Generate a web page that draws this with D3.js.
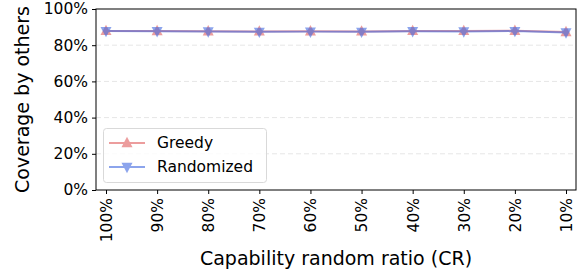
<!DOCTYPE html>
<html><head><meta charset="utf-8">
<script src="https://cdn.jsdelivr.net/npm/d3@7"></script>
<style>body{margin:0;background:#fff}svg{display:block}text{font-family:"DejaVu Sans",sans-serif;fill:#000}</style>
</head><body><svg id="c" width="578" height="272"></svg>
<script>
const categories = ["100%","90%","80%","70%","60%","50%","40%","30%","20%","10%"];
const greedy = [87.9, 87.8, 87.7, 87.6, 87.7, 87.6, 87.9, 87.9, 88.0, 87.3];
const randomized = [87.8, 87.7, 87.6, 87.4, 87.5, 87.4, 87.7, 87.6, 87.8, 87.0];
const yTicks = [0, 20, 40, 60, 80, 100];

const svg = d3.select("#c");
const L = 96, R = 576, T = 9, B = 190;
const x = d3.scalePoint().domain(categories).range([106, 566]);
const y = d3.scaleLinear().domain([0, 100]).range([B, T]);

// grid
svg.append("g").selectAll("line").data(yTicks.filter(d => d > 0 && d < 100)).join("line")
  .attr("x1", L).attr("x2", R).attr("y1", d => y(d)).attr("y2", d => y(d))
  .attr("stroke", "#e6e6e6").attr("stroke-width", 1).attr("stroke-dasharray", "5,3");

// axes
const yAxis = d3.axisLeft(y).tickValues(yTicks).tickFormat(d => d + "%").tickSize(4).tickPadding(4);
const gy = svg.append("g").attr("transform", `translate(${L},0)`).call(yAxis);
gy.select(".domain").remove();
gy.selectAll("text").style("font-size", "15.5px").attr("font-family", "DejaVu Sans").attr("fill", "#000");
gy.selectAll("line").attr("stroke", "#000");

const xAxis = d3.axisBottom(x).tickSize(4).tickPadding(4);
const gx = svg.append("g").attr("transform", `translate(0,${B})`).call(xAxis);
gx.select(".domain").remove();
gx.selectAll("line").attr("stroke", "#000");
gx.selectAll("text").style("font-size", "15.5px").attr("fill", "#000")
  .attr("transform", "rotate(-90)").attr("text-anchor", "end")
  .attr("x", -8).attr("y", 0).attr("dy", "0.35em");

// spines
svg.append("rect").attr("x", L).attr("y", T).attr("width", R - L).attr("height", B - T)
  .attr("fill", "none").attr("stroke", "#000").attr("stroke-width", 1);

const series = [
  {name: "Greedy", values: greedy, color: "#d62728", op: 0.45, sym: "up"},
  {name: "Randomized", values: randomized, color: "#4169e1", op: 0.6, sym: "down"}
];
const tri = (cx, cy, s, dir) => {
  const h = s * 0.95, w = s;
  return dir === "up"
    ? `M${cx},${cy - h * 0.6}L${cx + w / 2},${cy + h * 0.4}L${cx - w / 2},${cy + h * 0.4}Z`
    : `M${cx},${cy + h * 0.6}L${cx + w / 2},${cy - h * 0.4}L${cx - w / 2},${cy - h * 0.4}Z`;
};
const line = d3.line().x((d, i) => x(categories[i])).y(d => y(d));
series.forEach(s => {
  const g = svg.append("g").attr("opacity", s.op);
  g.append("path").datum(s.values).attr("d", line).attr("fill", "none")
    .attr("stroke", s.color).attr("stroke-width", 2);
  g.selectAll("path.m").data(s.values).join("path").attr("class", "m")
    .attr("d", (d, i) => tri(x(categories[i]), y(d), 11, s.sym)).attr("fill", s.color);
});

// legend
const lg = svg.append("g");
lg.append("rect").attr("x", 103.5).attr("y", 128.5).attr("width", 163).attr("height", 54).attr("rx", 3)
  .attr("fill", "#fff").attr("fill-opacity", 0.8).attr("stroke", "#d9d9d9");
series.forEach((s, i) => {
  const cy = 143 + i * 24;
  const g = lg.append("g").attr("opacity", s.op);
  g.append("line").attr("x1", 109).attr("x2", 145).attr("y1", cy).attr("y2", cy)
    .attr("stroke", s.color).attr("stroke-width", 2);
  g.append("path").attr("d", tri(127, cy, 11, s.sym)).attr("fill", s.color);
  lg.append("text").attr("x", 157).attr("y", cy).attr("dy", "0.35em").style("font-size", "15.5px").text(s.name);
});

// axis labels
svg.append("text").attr("x", (L + R) / 2).attr("y", 265).attr("text-anchor", "middle")
  .style("font-size", "19px").text("Capability random ratio (CR)");
svg.append("text").attr("transform", `translate(29,${(T + B) / 2}) rotate(-90)`).attr("text-anchor", "middle")
  .style("font-size", "19px").text("Coverage by others");
</script></body></html>
